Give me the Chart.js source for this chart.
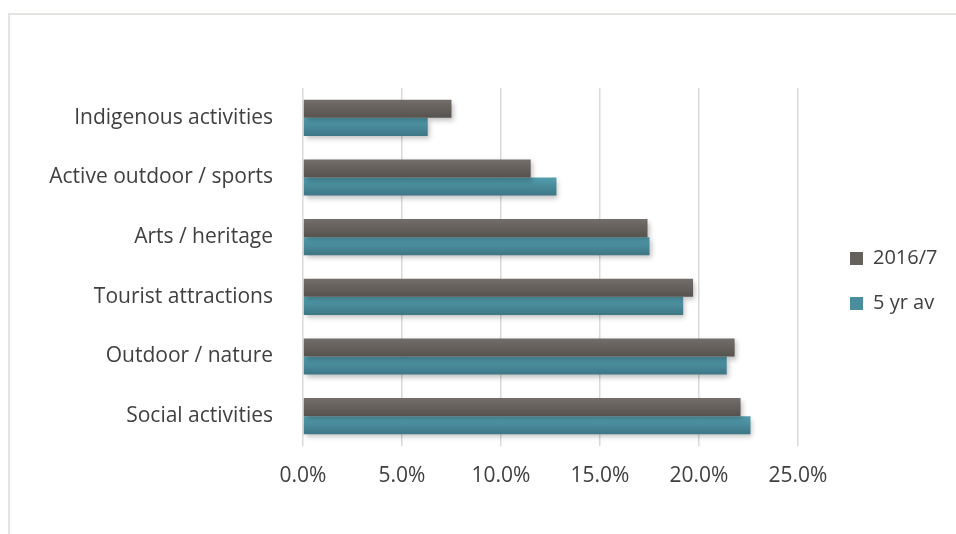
<!DOCTYPE html>
<html>
<head>
<meta charset="utf-8">
<script src="https://cdn.jsdelivr.net/npm/chart.js@4.4.1/dist/chart.umd.min.js"></script>
<style>
  html, body { margin: 0; padding: 0; background: #fff; }
  #wrap { position: relative; width: 956px; height: 534px; overflow: hidden; }
  #frame { position: absolute; left: 8px; top: 13px; width: 1000px; height: 600px; border: 2px solid #e4e4e1; }
  #chart { position: absolute; left: 0; top: 0; }
</style>
</head>
<body>
<div id="wrap">
  <div id="frame"></div>
  <canvas id="chart" width="956" height="534"></canvas>
</div>
<script>
// Categorías y series
const categories = ['Indigenous activities', 'Active outdoor / sports', 'Arts / heritage', 'Tourist attractions', 'Outdoor / nature', 'Social activities'];
const season2016 = [7.5, 11.5, 17.4, 19.7, 21.8, 22.1];
const fiveYearAvg = [6.3, 12.8, 17.5, 19.2, 21.4, 22.6];
const xTicks = [0, 5, 10, 15, 20, 25];

const CAT_PCT = 0.605;
const FONT = 'Open Sans';

// Degradado vertical para cada barra según su posición en la escala
function barGradient(top, bottom) {
  return function(context) {
    const chart = context.chart;
    const y = chart.scales.y;
    if (!y || context.dataIndex === undefined) return top;
    const center = y.getPixelForValue(context.dataIndex);
    const band = y.height / categories.length;
    const bw = band * CAT_PCT / 2;
    const y0 = context.datasetIndex === 0 ? center - bw : center;
    const g = chart.ctx.createLinearGradient(0, y0, 0, y0 + bw);
    g.addColorStop(0, top);
    g.addColorStop(1, bottom);
    return g;
  };
}

// Sombra suave bajo las barras
const barShadow = {
  id: 'barShadow',
  beforeDatasetsDraw(chart) {
    const ctx = chart.ctx;
    ctx.save();
    ctx.shadowColor = 'rgba(0, 0, 0, 0.25)';
    ctx.shadowBlur = 5;
    ctx.shadowOffsetX = 2;
    ctx.shadowOffsetY = 3;
  },
  afterDatasetsDraw(chart) {
    chart.ctx.restore();
  }
};

// Leyenda a la derecha con ancho fijo y desplazada a su sitio
const legendPlace = {
  id: 'legendPlace',
  afterInit(chart) {
    const lg = chart.legend;
    const fit = lg.fit.bind(lg);
    lg.fit = function() { fit(); this.width = 158; };
  },
  afterLayout(chart) {
    const lg = chart.legend;
    const dx = 27, dy = -30;
    lg.left += dx; lg.right += dx;
    lg.top += dy; lg.bottom += dy;
  }
};

new Chart(document.getElementById('chart').getContext('2d'), {
  type: 'bar',
  data: {
    labels: categories,
    datasets: [{
      label: '2016/7',
      data: season2016,
      backgroundColor: barGradient('#736e69', '#56524e'),
      borderWidth: 0
    }, {
      label: '5 yr av',
      data: fiveYearAvg,
      backgroundColor: barGradient('#529eaf', '#3e7685'),
      borderWidth: 0
    }]
  },
  options: {
    indexAxis: 'y',
    responsive: false,
    animation: false,
    devicePixelRatio: 1,
    layout: { padding: { top: 88, right: 0, bottom: 0, left: 0 } },
    datasets: { bar: { categoryPercentage: CAT_PCT, barPercentage: 1 } },
    plugins: {
      tooltip: { enabled: false },
      legend: {
        position: 'right',
        labels: {
          color: '#404040',
          font: { family: FONT, size: 20 },
          boxWidth: 13,
          boxHeight: 13,
          padding: 25,
          generateLabels(chart) {
            const cols = ['#64605c', '#4a8d9d'];
            return chart.data.datasets.map((ds, i) => ({
              text: ds.label,
              fillStyle: cols[i],
              strokeStyle: cols[i],
              lineWidth: 0,
              fontColor: '#404040',
              datasetIndex: i
            }));
          }
        }
      }
    },
    scales: {
      x: {
        min: 0,
        max: 25,
        afterBuildTicks(scale) { scale.ticks = xTicks.map(v => ({ value: v })); },
        afterFit(scale) { scale.height = 88; },
        grid: { color: '#d9d9d9', lineWidth: 1.5, drawTicks: false },
        border: { display: false },
        ticks: {
          color: '#404040',
          font: { family: FONT, size: 21 },
          padding: 17,
          callback: v => v.toFixed(1) + '%'
        }
      },
      y: {
        afterFit(scale) { scale.width = 303; },
        grid: { display: false, drawTicks: false },
        border: { display: false },
        ticks: {
          color: '#404040',
          font: { family: FONT, size: 21 },
          padding: 30
        }
      }
    }
  },
  plugins: [barShadow, legendPlace]
});
</script>
</body>
</html>
